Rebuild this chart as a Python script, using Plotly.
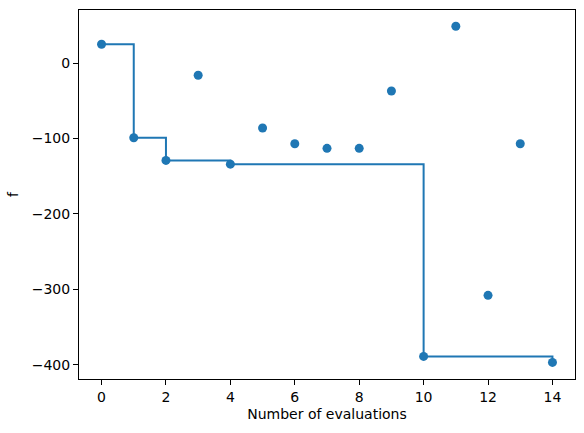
import plotly.graph_objects as go

evals = list(range(15))
f_values = [25, -99, -129, -16, -134, -86, -107, -113, -113, -37, -389, 49, -308, -107, -397]
best_so_far = [25, -99, -129, -129, -134, -134, -134, -134, -134, -134, -389, -389, -389, -389, -397]

blue = "#1f77b4"
fig = go.Figure()
fig.add_trace(go.Scatter(x=evals, y=best_so_far, mode="lines", line=dict(color=blue, width=2, shape="hv"), showlegend=False))
fig.add_trace(go.Scatter(x=evals, y=f_values, mode="markers", marker=dict(color=blue, size=9), showlegend=False))

axis_common = dict(showline=True, linecolor="black", linewidth=1, mirror=True, ticks="outside",
                   ticklen=5, tickwidth=1, tickcolor="black", showgrid=False, zeroline=False,
                   tickfont=dict(family="DejaVu Sans", size=14, color="black"))
fig.update_layout(
    width=584, height=433,
    margin=dict(l=79, r=9, t=10, b=54),
    plot_bgcolor="white", paper_bgcolor="white",
    xaxis=dict(range=[-0.7, 14.7], dtick=2, tick0=0,
               title=dict(text="Number of evaluations", font=dict(family="DejaVu Sans", size=14, color="black"), standoff=5),
               **axis_common),
    yaxis=dict(range=[-419, 70.5], dtick=100, tick0=0,
               title=dict(text="f", font=dict(family="DejaVu Sans", size=14, color="black"), standoff=9),
               **axis_common),
)
fig.write_html("out.html")
